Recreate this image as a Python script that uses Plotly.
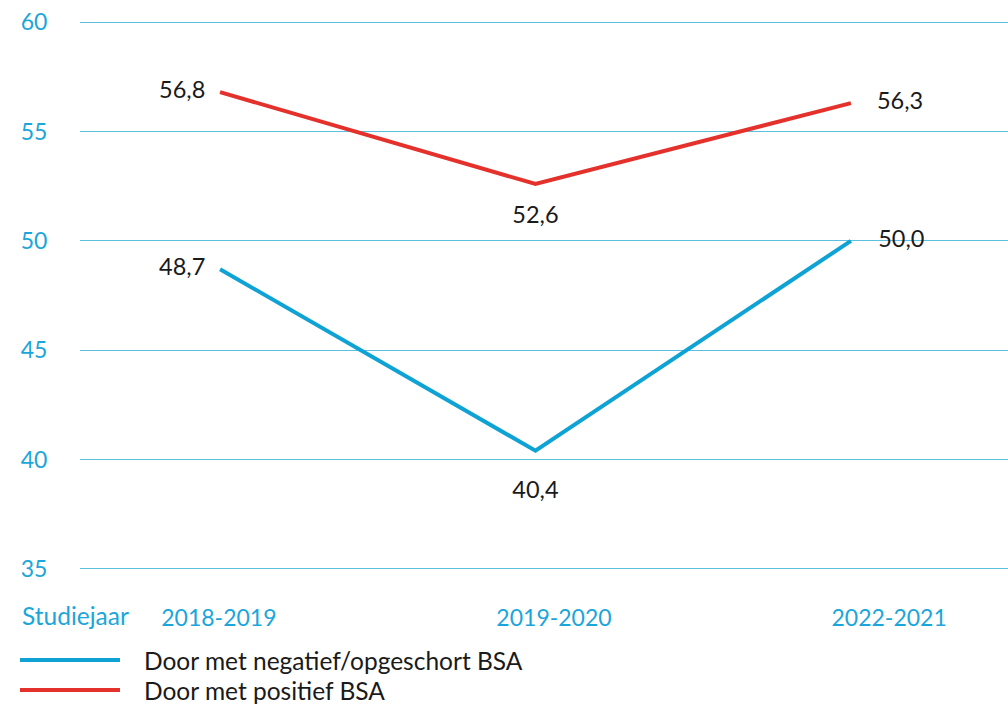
import plotly.graph_objects as go

categories = ["2018-2019", "2019-2020", "2022-2021"]
series_names = ["Door met negatief/opgeschort BSA", "Door met positief BSA"]
negatief = [48.7, 40.4, 50.0]
positief = [56.8, 52.6, 56.3]
y_ticks = [35, 40, 45, 50, 55, 60]
x_title = "Studiejaar"

BLUE = "#0ea3d4"
RED = "#e4312b"
TICK_BLUE = "#1ba6db"
GRID = "#5bbfe0"
TEXT = "#1a1a1a"
FONT = "Lato"

W, H = 1008, 706
ML, MR, MT, MB = 80, 0, 20, 135
PW = W - ML - MR
PH = H - MT - MB


def px_x(p):
    return (p - ML) / PW


def px_y(p):
    return (H - MB - p) / PH


def fmt(v):
    return f"{v:.1f}".replace(".", ",")


fig = go.Figure()
positions = ["middle left", "bottom center", "middle right"]
label_pad = {series_names[0]: [22, 46, 42], series_names[1]: [22, 33, 40]}
for name, vals, col in [(series_names[0], negatief, BLUE), (series_names[1], positief, RED)]:
    fig.add_trace(go.Scatter(
        x=list(range(len(categories))), y=vals, name=name,
        mode="lines+markers+text",
        line=dict(color=col, width=4),
        marker=dict(size=label_pad[name], opacity=0, color=col),
        text=[fmt(v) for v in vals],
        textposition=positions,
        textfont=dict(family=FONT, size=23.5, color=TEXT),
        showlegend=False,
        cliponaxis=False,
        hoverinfo="skip",
    ))

# Invisible helper trace so the label axis (xaxis2) is drawn
fig.add_trace(go.Scatter(
    x=list(range(len(categories))), y=[None] * len(categories),
    xaxis="x2", yaxis="y", mode="lines", showlegend=False, hoverinfo="skip",
))

fig.update_layout(
    width=W, height=H, autosize=False,
    margin=dict(l=ML, r=MR, t=MT, b=MB),
    paper_bgcolor="white", plot_bgcolor="white",
    font=dict(family=FONT, size=23, color=TICK_BLUE),
    xaxis=dict(
        range=[-0.444, 2.498],
        showticklabels=False,
        showgrid=False, zeroline=False, showline=False, ticks="",
    ),
    xaxis2=dict(
        range=[-0.4143, 2.3547],
        overlaying="x", side="bottom",
        tickmode="array", tickvals=list(range(len(categories))), ticktext=categories,
        showgrid=False, zeroline=False, showline=False,
        ticks="outside", ticklen=26, tickcolor="rgba(0,0,0,0)",
        tickfont=dict(family=FONT, size=23, color=TICK_BLUE),
    ),
    yaxis=dict(
        range=[34.9, 60.1],
        tickmode="array", tickvals=y_ticks,
        showgrid=True, gridcolor=GRID, gridwidth=1,
        zeroline=False, showline=False,
        ticks="outside", ticklen=27, tickcolor="rgba(0,0,0,0)",
        tickfont=dict(family=FONT, size=23, color=TICK_BLUE),
    ),
)

fig.add_annotation(
    text=x_title, xref="paper", yref="paper",
    x=px_x(20), y=px_y(615), xanchor="left", yanchor="middle",
    showarrow=False, font=dict(family=FONT, size=24.5, color=TICK_BLUE),
)

legend_rows = [660, 690]
for name, col, row in zip(series_names, [BLUE, RED], legend_rows):
    fig.add_shape(
        type="line", xref="paper", yref="paper",
        x0=px_x(20), x1=px_x(120), y0=px_y(row), y1=px_y(row),
        line=dict(color=col, width=4),
    )
    fig.add_annotation(
        text=name, xref="paper", yref="paper",
        x=px_x(142), y=px_y(row), xanchor="left", yanchor="middle",
        showarrow=False, font=dict(family=FONT, size=24.5, color=TEXT),
    )

fig.write_html(
    "out.html",
    config={"displayModeBar": False},
    post_script="document.body.style.margin='0';document.body.style.overflow='hidden';",
)
